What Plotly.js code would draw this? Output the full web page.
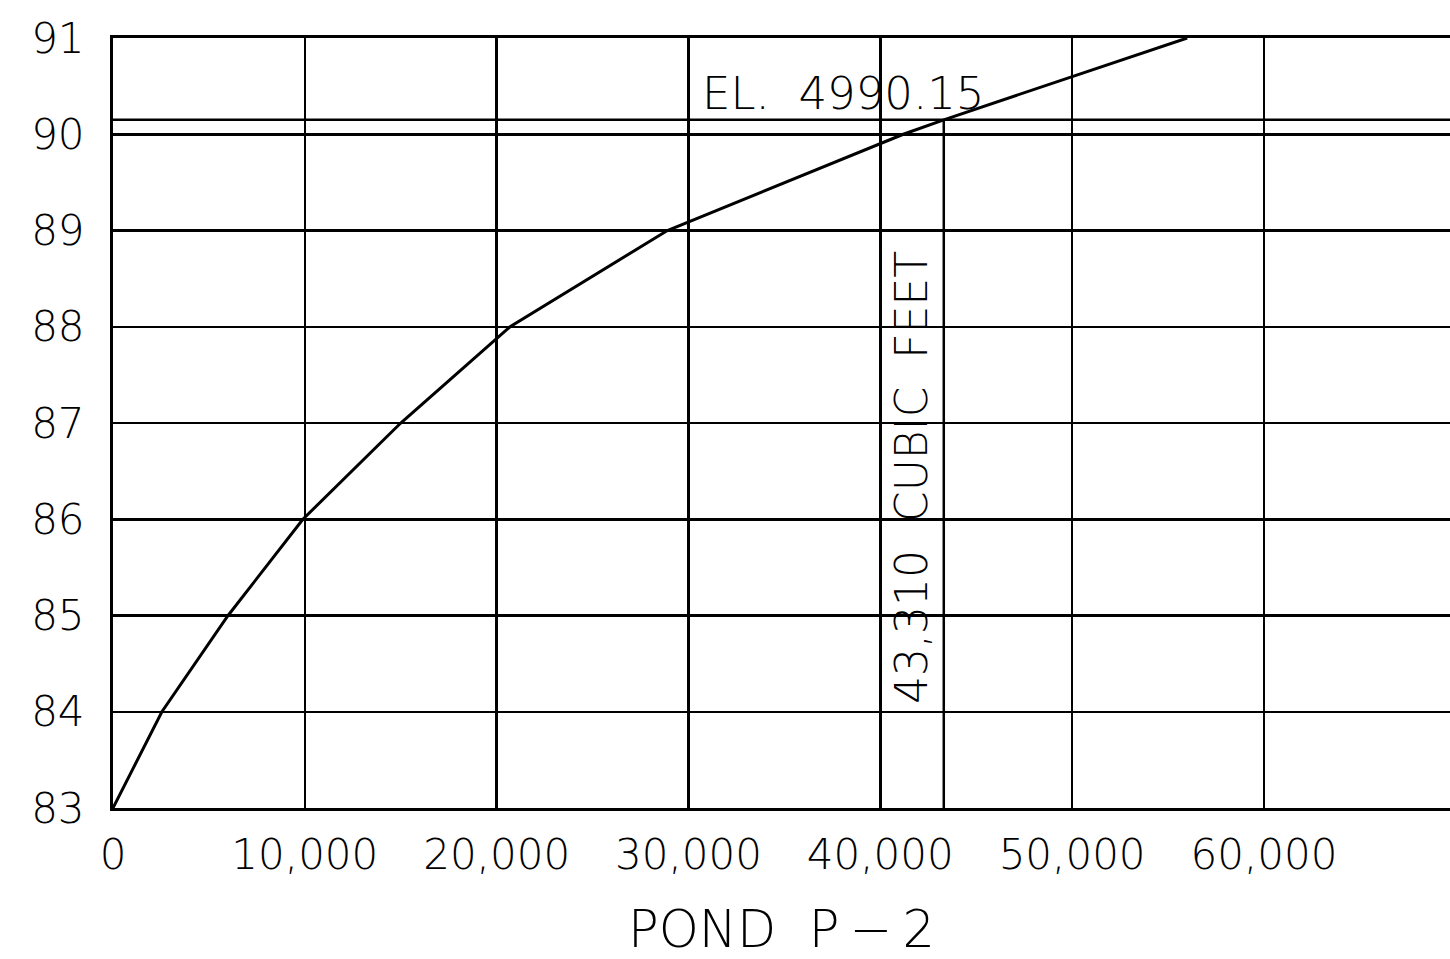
<!DOCTYPE html>
<html>
<head>
<meta charset="utf-8">
<script src="https://cdn.plot.ly/plotly-3.0.1.min.js"></script>
<style>
  html, body { margin: 0; padding: 0; background: #fff; }
  #chart { width: 1450px; height: 959px; }
</style>
</head>
<body>
<div id="chart"></div>
<script>
// Stage-storage curve for Pond P-2 (volume in cubic feet vs elevation)
const volumeCF   = [0, 2550, 6000, 9900, 15000, 20700, 28900, 41200, 43310, 56000];
const elevation  = [83, 84, 85, 86, 87, 88, 89, 90, 90.15, 91];

// Design water surface and corresponding volume
const designElev   = 90.15;
const designVolume = 43310;

// Axis ticks
const xTickVals = [0, 10000, 20000, 30000, 40000, 50000, 60000];
const xTickText = ["0", "10,000", "20,000", "30,000", "40,000", "50,000", "60,000"];
const yTickVals = [83, 84, 85, 86, 87, 88, 89, 90, 91];
const yTickText = ["83", "84", "85", "86", "87", "88", "89", "90", "91"];

const xMax = 69700;
const FONT = "DejaVu Sans, Liberation Sans, sans-serif";
const W = 200;

const traces = [
  { // storage curve
    x: volumeCF, y: elevation, type: "scatter", mode: "lines",
    line: { color: "#000", width: 3 }, hoverinfo: "skip", showlegend: false
  },
  { // elevation line
    x: [0, xMax], y: [designElev, designElev], type: "scatter", mode: "lines",
    line: { color: "#000", width: 2.5 }, hoverinfo: "skip", showlegend: false
  },
  { // volume line
    x: [designVolume, designVolume], y: [83, designElev], type: "scatter", mode: "lines",
    line: { color: "#000", width: 2.5 }, hoverinfo: "skip", showlegend: false
  }
];

const layout = {
  width: 1450, height: 959,
  margin: { l: 113, r: 0, t: 38, b: 151 },
  paper_bgcolor: "#fff", plot_bgcolor: "#fff",
  font: { family: FONT, color: "#000", size: 42, weight: W },
  showlegend: false,
  xaxis: {
    range: [0, xMax],
    tickvals: xTickVals, ticktext: xTickText,
    showgrid: true, gridcolor: "#000", gridwidth: 2.5,
    zeroline: false,
    showline: true, linecolor: "#000", linewidth: 3, mirror: true,
    ticks: "", ticklabelstandoff: 8,
    tickfont: { family: FONT, size: 42, color: "#000", weight: W },
    title: { text: "POND  P\u2009\u2212\u20092", font: { family: FONT, size: 51, color: "#000", weight: W }, standoff: 40 }
  },
  yaxis: {
    range: [83, 91],
    tickvals: yTickVals, ticktext: yTickText,
    showgrid: true, gridcolor: "#000", gridwidth: 2.5,
    zeroline: false,
    showline: true, linecolor: "#000", linewidth: 3,
    ticks: "", ticklabelstandoff: 17,
    tickfont: { family: FONT, size: 42, color: "#000", weight: W }
  },
  annotations: [
    {
      x: 30600, y: designElev, xref: "x", yref: "y",
      xanchor: "left", yanchor: "bottom", yshift: -2,
      text: "EL.  4990.15", showarrow: false,
      font: { family: FONT, size: 45, color: "#000", weight: W }
    },
    {
      x: 41660, y: 86.43, xref: "x", yref: "y",
      xanchor: "center", yanchor: "middle",
      text: "43,310  CUBIC  FEET", showarrow: false, textangle: -90,
      font: { family: FONT, size: 44, color: "#000", weight: W }
    }
  ]
};

Plotly.newPlot("chart", traces, layout, { staticPlot: true, displayModeBar: false });
</script>
</body>
</html>
